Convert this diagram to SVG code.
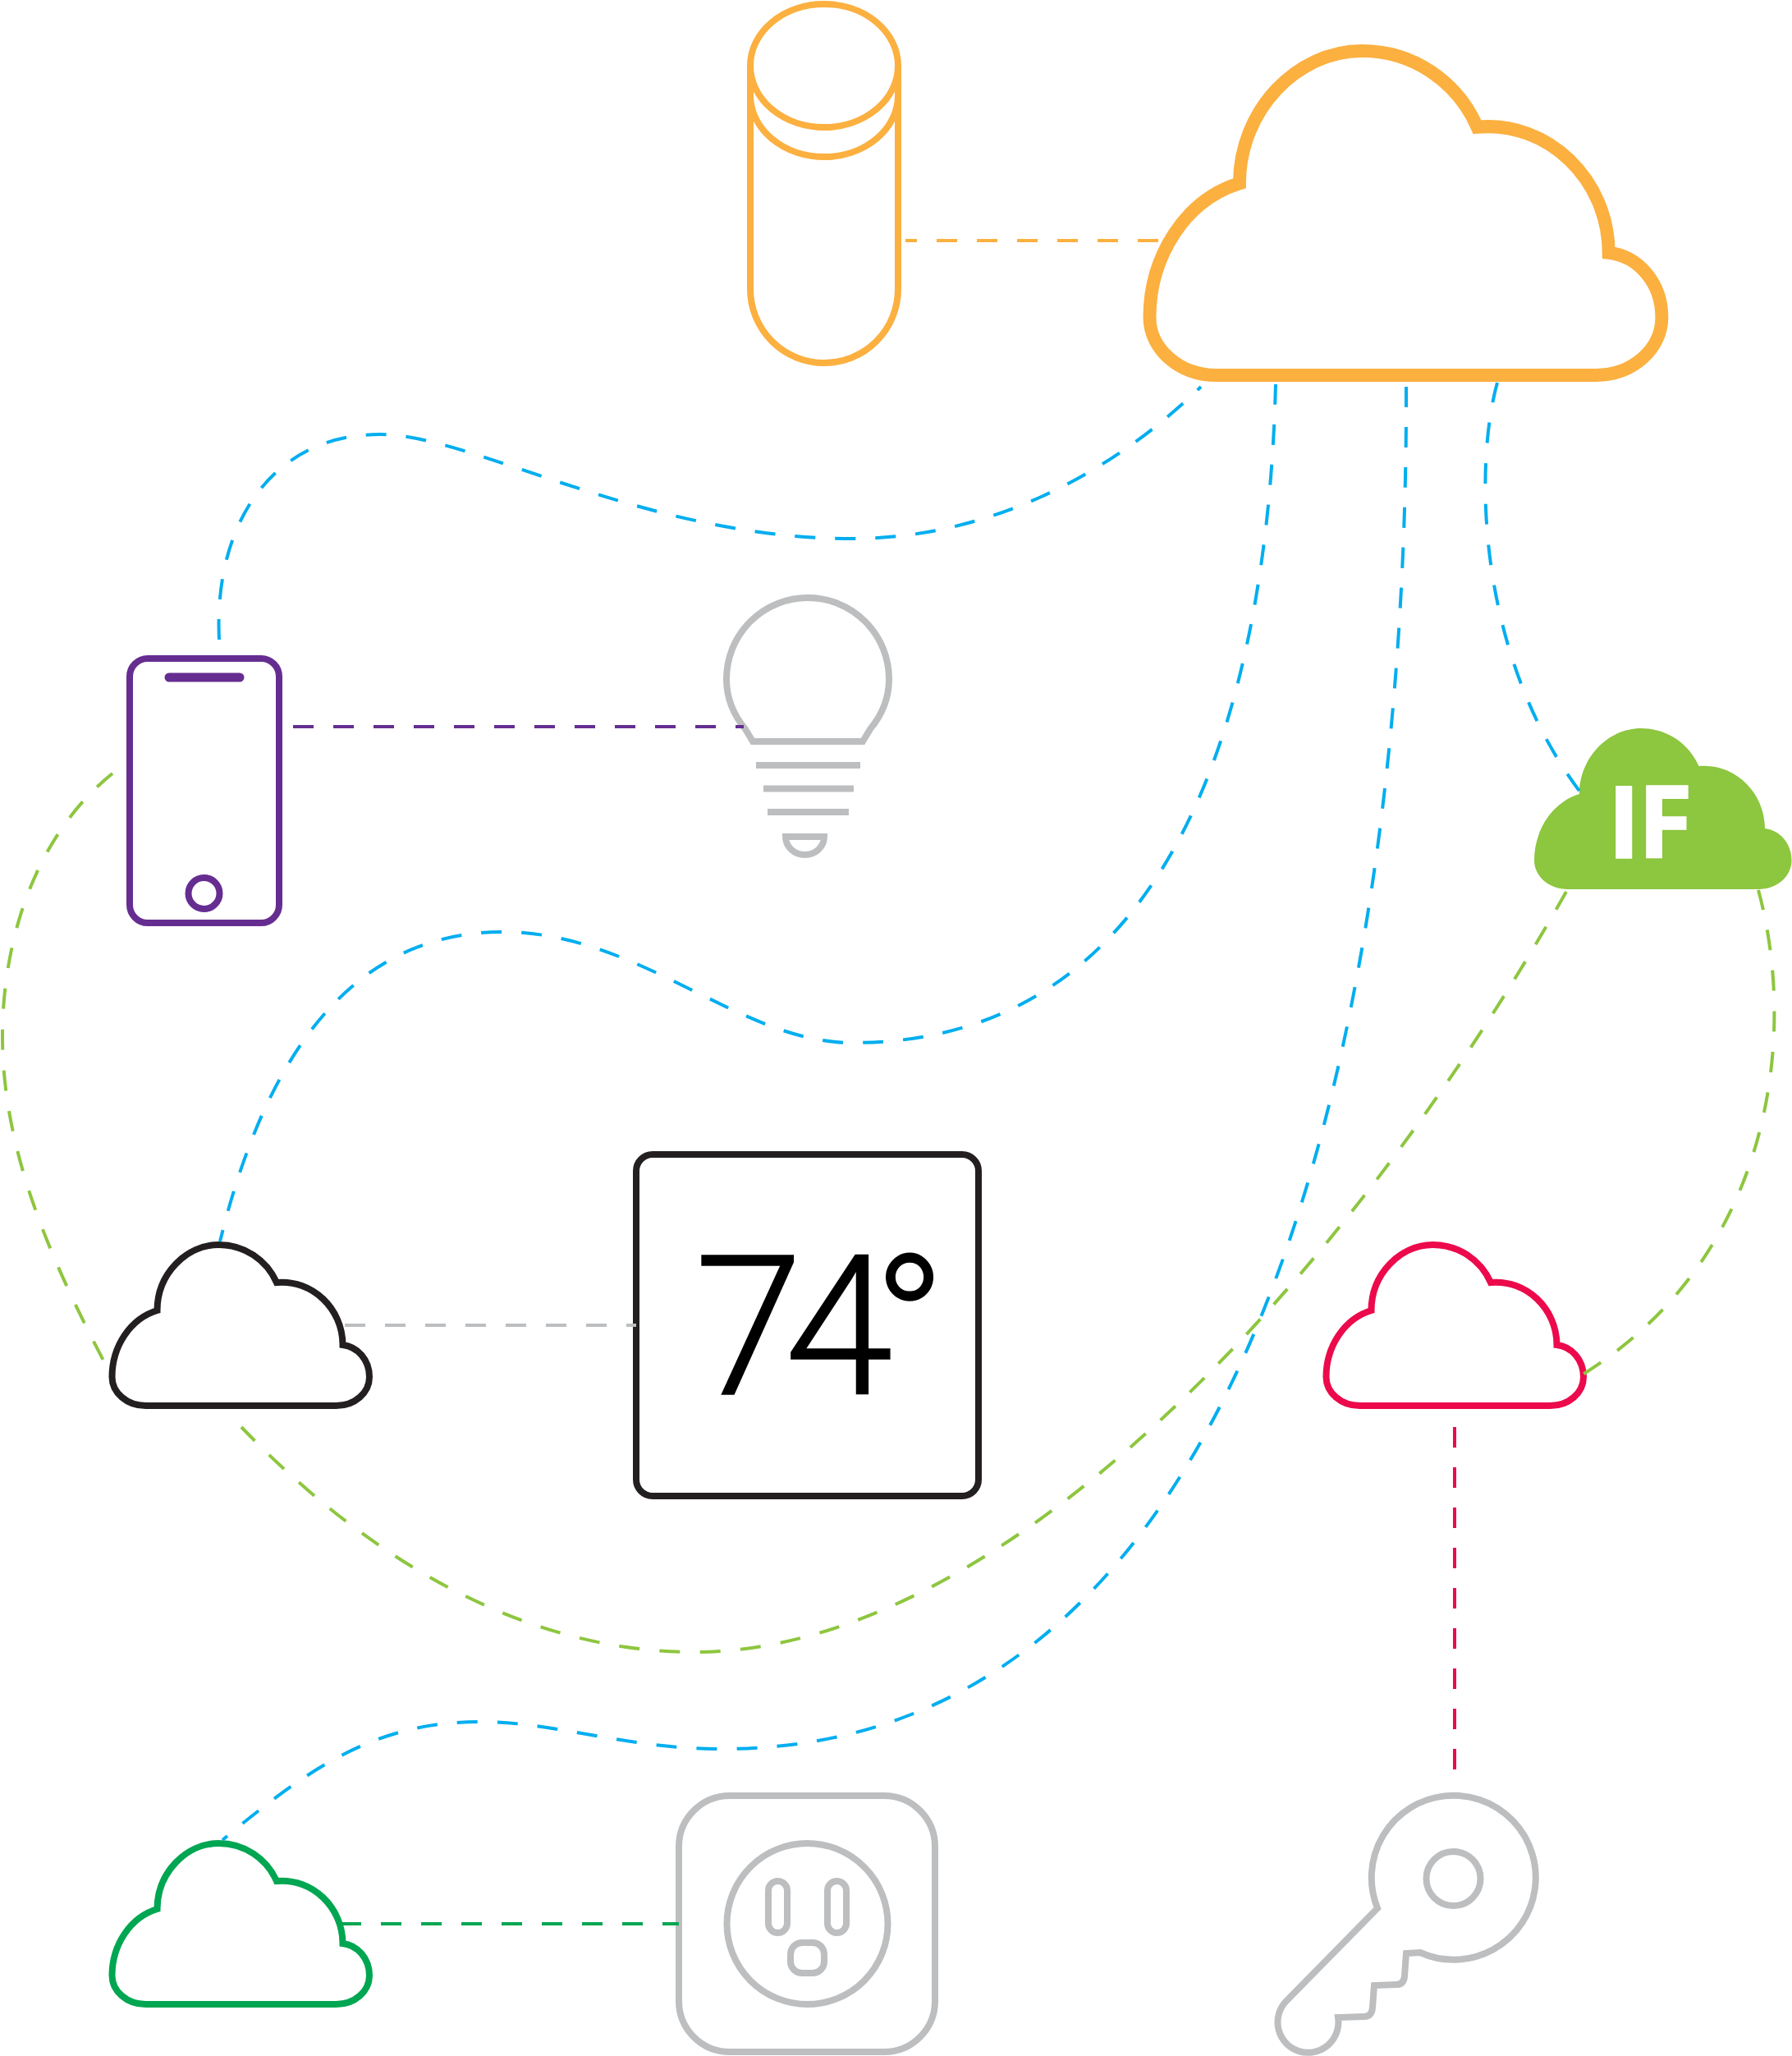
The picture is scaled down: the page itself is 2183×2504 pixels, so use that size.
<svg xmlns="http://www.w3.org/2000/svg" width="2183" height="2504" viewBox="0 0 2183 2504">
<style>
.n{fill:#fff;stroke-width:8;stroke-miterlimit:10}
.g{fill:none;stroke:#BCBEC0;stroke-width:8;stroke-miterlimit:10}
.o{fill:none;stroke:#FBB040;stroke-width:8;stroke-miterlimit:10}
.c{fill:none;stroke-width:4;stroke-dasharray:25 24}
.bl{stroke:#00AEEF}.gr{stroke:#8DC63F}
</style>
<defs>
<path id="cloud" d="M55,80 C55,36 90,0 130,0 C161,0 188,18 200.5,46 C244,42 281,78 281,122 C299,124 313.5,140 313.5,161 C313.5,180 296,196 273,196 H41 C18,196 0,180 0,161 C0,124 22,90 55,80 Z"/>
</defs>
<rect width="2183" height="2504" fill="#fff"/>
<g id="cylinder">
<path class="o" d="M914,80 V352 A90,90 0 0 0 1094,352 V80"/>
<ellipse class="o" cx="1004" cy="80" rx="90" ry="75"/>
<path class="o" d="M914,116 A90,75 0 0 0 1094,116"/>
</g>
<g id="main-cloud"><use href="#cloud" transform="translate(1400.5,62) scale(1.99,2.015)" fill="#fff" stroke="#FBB040" stroke-width="8" stroke-miterlimit="10"/></g>
<g id="phone">
<rect x="158" y="802" width="182" height="322" rx="22" fill="#fff" stroke="#662D91" stroke-width="8"/>
<line x1="206" y1="825" x2="292" y2="825" stroke="#662D91" stroke-width="11" stroke-linecap="round"/>
<circle cx="248.5" cy="1088" r="19" fill="none" stroke="#662D91" stroke-width="8"/>
</g>
<g id="bulb">
<path class="g" d="M917,903 L908,888 C893,870 885,850 885,827 A99,99 0 0 1 1083,827 C1083,850 1075,870 1060,888 L1051,903 Z"/>
<path class="g" d="M921,932 H1048 M930,960.5 H1040 M935,989 H1034"/>
<path class="g" d="M957,1019 H1004 A23.5,22 0 0 1 957,1019 Z"/>
</g>
<g id="if-cloud">
<use href="#cloud" transform="translate(1869,887)" fill="#8DC63F"/>
<text x="1958 1995" y="1045" font-family="'Open Sans',sans-serif" font-weight="700" font-size="122" fill="#fff" stroke="#fff" stroke-width="1.5">IF</text>
</g>
<g id="black-cloud"><use href="#cloud" transform="translate(136.5,1516)" class="n" stroke="#231F20"/></g>
<g id="thermostat">
<rect x="775" y="1406" width="417" height="416" rx="20" class="n" stroke="#231F20"/>
<text x="846 956 1063" y="1698" font-family="Roboto,sans-serif" font-weight="300" font-size="238" fill="#000" stroke="#000" stroke-width="1.5">74°</text>
</g>
<g id="red-cloud"><use href="#cloud" transform="translate(1615.5,1516)" class="n" stroke="#EC0A4C"/></g>
<g id="green-cloud"><use href="#cloud" transform="translate(136.5,2245)" class="n" stroke="#00A651"/></g>
<g id="outlet">
<rect x="827" y="2187" width="312" height="312" rx="62" class="g"/>
<circle cx="983.5" cy="2343" r="98" class="g"/>
<rect x="936" y="2291" width="23" height="63" rx="11.5" class="g"/>
<rect x="1008" y="2291" width="23" height="63" rx="11.5" class="g"/>
<rect x="963" y="2366" width="41" height="37" rx="14" class="g"/>
</g>
<g id="key">
<path class="g" d="M1678,2324 A100,100 0 1 1 1730,2378 L1713,2379 L1711,2407 Q1710,2417 1701,2417 L1674,2418 L1672,2445 Q1671,2456 1662,2456 L1630,2457 A37,37 0 1 1 1567,2437 Z"/>
<circle cx="1770.5" cy="2288" r="33" class="g"/>
</g>
<g id="connectors">
<path class="c" stroke="#FBB040" d="M1411,293 H1103"/>
<path class="c" stroke="#662D91" d="M357,885 H906"/>
<path class="c" stroke="#BCBEC0" d="M420,1614 H775"/>
<path class="c" stroke="#00A651" d="M415,2343 H827"/>
<path class="c" stroke="#EC0A4C" d="M1772,1738 V2156"/>
<path class="c bl" d="M267,779 C260,640 330,529 463,529 C575,529 785,656 1038,656 C1190,656 1340,590 1463,471"/>
<path class="c bl" d="M1554,468 C1545,820 1450,1270 1038,1270 C900,1270 780,1135 612,1135 C420,1135 320,1300 268,1512"/>
<path class="c bl" d="M1713,471 C1715,1000 1620,2130 880,2130 C760,2130 680,2097 585,2097 C460,2097 380,2150 271,2241"/>
<path class="c bl" style="stroke-dasharray:25 24.7" d="M1824,466 C1795,570 1800,800 1926,966"/>
<path class="c gr" style="stroke-dasharray:25 25" d="M137,942 C40,1020 3,1150 3,1262 C3,1400 60,1530 126,1657"/>
<path class="c gr" style="stroke-dasharray:25 24.35" d="M1908,1086 C1640,1560 1220,2012 846,2012 C630,2012 440,1890 294,1738"/>
<path class="c gr" style="stroke-dasharray:25 24.7" d="M2142,1084 C2190,1260 2160,1530 1928,1674"/>
</g>
</svg>
